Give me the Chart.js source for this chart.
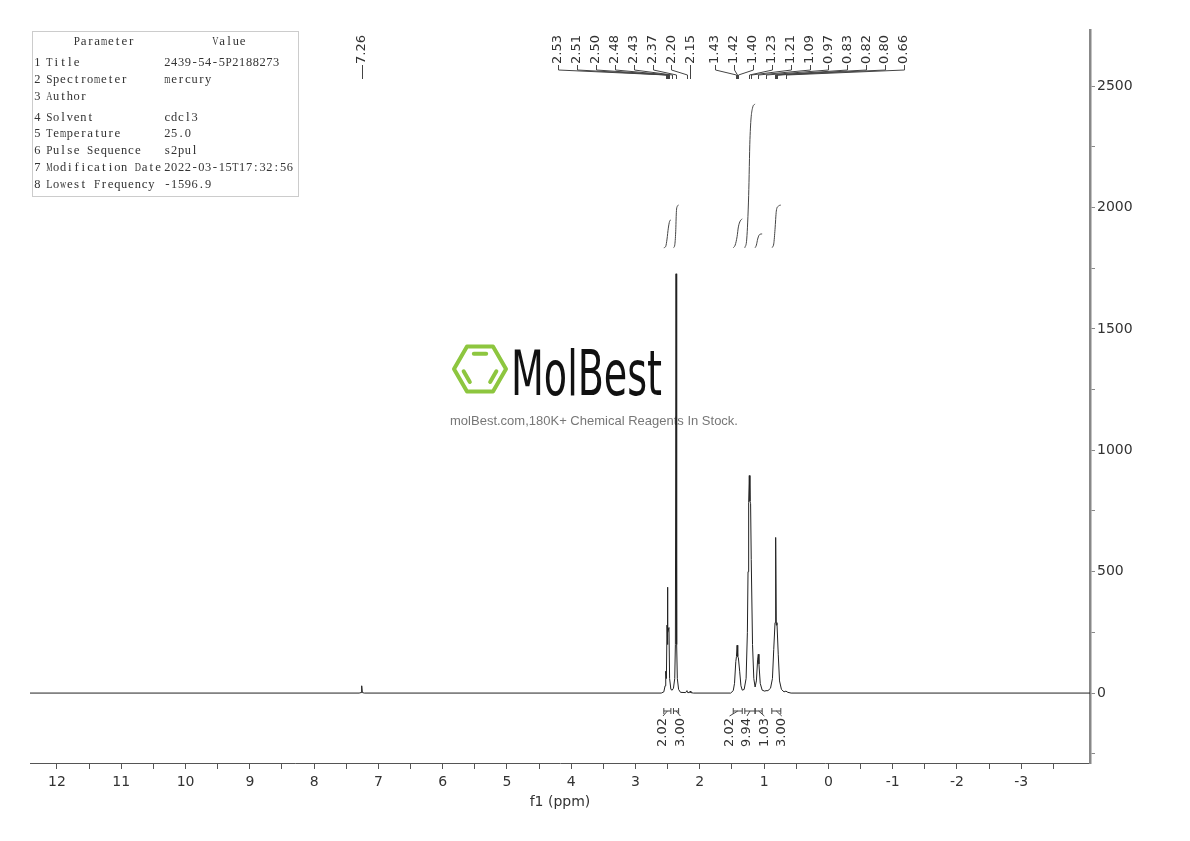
<!DOCTYPE html>
<html>
<head>
<meta charset="utf-8">
<script src="https://cdn.jsdelivr.net/npm/chart.js"></script>
<style>
  body { margin: 0; background: #fff; }
  #wrap { width: 1190px; height: 841px; }
</style>
</head>
<body>
<div id="wrap"><canvas id="chart" width="1190" height="841"></canvas></div>
<script>
// spectrum trace (ppm / intensity)
var shiftPpm = [12.42, 7.30, 7.27, 7.26, 7.25, 7.22, 2.60, 2.56, 2.54, 2.53,
                2.52, 2.51, 2.505, 2.50, 2.495, 2.48, 2.47, 2.45, 2.43, 2.41,
                2.39, 2.38, 2.37, 2.36, 2.35, 2.33, 2.30, 2.22, 2.20, 2.19,
                2.16, 2.15, 2.14, 2.10, 1.52, 1.48, 1.46, 1.44, 1.43, 1.42,
                1.41, 1.40, 1.38, 1.36, 1.34, 1.31, 1.28, 1.26, 1.25, 1.24,
                1.23, 1.22, 1.21, 1.20, 1.18, 1.16, 1.14, 1.12, 1.10, 1.09,
                1.08, 1.06, 1.03, 0.99, 0.97, 0.94, 0.90, 0.87, 0.85, 0.83,
                0.82, 0.81, 0.80, 0.78, 0.76, 0.73, 0.69, 0.66, 0.63, 0.58,
                -4.07];
var intensity = [0, 0, 2, 30, 2, 0, 0, 5, 30, 90,
                 60, 280, 200, 436, 250, 270, 60, 15, 12, 20,
                 60, 200, 1727, 200, 60, 15, 3, 2, 10, 2,
                 2, 8, 2, 0, 0, 10, 40, 130, 150, 197,
                 150, 145, 90, 30, 12, 15, 60, 250, 500, 785,
                 896, 790, 780, 550, 200, 60, 25, 50, 140, 160,
                 120, 40, 12, 8, 10, 10, 20, 60, 180, 290,
                 641, 280, 290, 160, 50, 15, 5, 8, 3, 0,
                 0];

// axis ticks
var xTickValues = [-3.5, -3, -2.5, -2, -1.5, -1, -0.5, 0, 0.5, 1, 1.5, 2, 2.5, 3, 3.5, 4, 4.5,
                   5, 5.5, 6, 6.5, 7, 7.5, 8, 8.5, 9, 9.5, 10, 10.5, 11, 11.5, 12];
var yTickValues = [-250, 0, 250, 500, 750, 1000, 1250, 1500, 1750, 2000, 2250, 2500];

// peak picking labels
var peakLabels = [7.26, 2.53, 2.51, 2.50, 2.48, 2.43, 2.37, 2.20, 2.15,
                  1.43, 1.42, 1.40, 1.23, 1.21, 1.09, 0.97, 0.83, 0.82, 0.80, 0.66];

// integrals: ranges, values and the drawn curves
var integralRanges = [[2.56, 2.45], [2.41, 2.33], [1.48, 1.34], [1.30, 1.14], [1.14, 1.03], [0.88, 0.74]];
var integralValues = [2.02, 3.00, 2.02, 9.94, 1.03, 3.00];
var integralPpm = [
  [2.56, 2.53, 2.51, 2.49, 2.47, 2.45],
  [2.41, 2.39, 2.375, 2.365, 2.35, 2.33],
  [1.48, 1.45, 1.42, 1.40, 1.37, 1.34],
  [1.30, 1.27, 1.24, 1.22, 1.18, 1.14],
  [1.14, 1.12, 1.10, 1.08, 1.06, 1.03],
  [0.88, 0.85, 0.83, 0.81, 0.78, 0.74]
];
var integralLevel = [
  [1834, 1840, 1870, 1915, 1943, 1949],
  [1834, 1845, 1900, 1980, 2005, 2010],
  [1834, 1845, 1880, 1920, 1945, 1953],
  [1834, 1870, 2050, 2280, 2410, 2426],
  [1834, 1845, 1870, 1885, 1890, 1891],
  [1834, 1850, 1910, 1985, 2005, 2010]
];

// parameter table
var paramNames = ['Title', 'Spectrometer', 'Author', 'Solvent', 'Temperature',
                  'Pulse Sequence', 'Modification Date', 'Lowest Frequency'];
var paramValues = ['2439-54-5P2188273', 'mercury', '', 'cdcl3', '25.0',
                   's2pul', '2022-03-15T17:32:56', '-1596.9'];

var FONT = '"DejaVu Sans", Verdana, sans-serif';

function toPoints(xs, ys) {
  var pts = [];
  for (var i = 0; i < xs.length; i++) pts.push({x: xs[i], y: ys[i]});
  return pts;
}

var datasets = [{
  data: toPoints(shiftPpm, intensity),
  borderColor: '#222',
  borderWidth: 1,
  pointRadius: 0,
  tension: 0
}];
integralPpm.forEach(function(xs, i) {
  datasets.push({
    data: toPoints(xs, integralLevel[i]),
    borderColor: '#444',
    borderWidth: 1,
    pointRadius: 0,
    cubicInterpolationMode: 'monotone'
  });
});

// half-width glyph cells, like the table font of the original
function monoText(ctx, text, x, y) {
  var cell = 6.8;
  for (var i = 0; i < text.length; i++) {
    var w = ctx.measureText(text[i]).width;
    ctx.save();
    ctx.translate(x + i * cell + cell / 2, y);
    if (w > cell - 0.6) ctx.scale((cell - 0.6) / w, 1);
    ctx.fillText(text[i], 0, 0);
    ctx.restore();
  }
}

var extras = {
  id: 'extras',
  beforeDatasetsDraw: function(chart) {
    var ctx = chart.ctx;
    ctx.save();
    // watermark hexagon
    var cx = 480, cy = 369, r = 26;
    var v = [];
    for (var k = 0; k < 6; k++) {
      v.push([cx + r * Math.cos(k * Math.PI / 3), cy + r * Math.sin(k * Math.PI / 3)]);
    }
    ctx.strokeStyle = '#8dc63f';
    ctx.lineWidth = 4;
    ctx.lineJoin = 'round';
    ctx.beginPath();
    v.forEach(function(p, k) { if (k === 0) ctx.moveTo(p[0], p[1]); else ctx.lineTo(p[0], p[1]); });
    ctx.closePath();
    ctx.stroke();
    ctx.lineCap = 'round';
    [[4, 5], [2, 3], [0, 1]].forEach(function(e) {
      var a = v[e[0]], b = v[e[1]];
      var ax = cx + 0.68 * (a[0] - cx), ay = cy + 0.68 * (a[1] - cy);
      var bx = cx + 0.68 * (b[0] - cx), by = cy + 0.68 * (b[1] - cy);
      ctx.beginPath();
      ctx.moveTo(ax + 0.15 * (bx - ax), ay + 0.15 * (by - ay));
      ctx.lineTo(bx - 0.15 * (bx - ax), by - 0.15 * (by - ay));
      ctx.stroke();
    });
    // watermark name
    ctx.fillStyle = '#111';
    ctx.font = '62px "Liberation Sans Narrow", "DejaVu Sans Condensed", sans-serif';
    ctx.textBaseline = 'alphabetic';
    var w = ctx.measureText('MolBest').width;
    ctx.save();
    ctx.translate(511, 395);
    ctx.scale(151 / w, 1);
    ctx.fillText('MolBest', 0, 0);
    ctx.restore();
    ctx.fillStyle = '#777';
    ctx.font = '13px "Liberation Sans", Arial, sans-serif';
    ctx.textAlign = 'center';
    ctx.textBaseline = 'middle';
    ctx.fillText('molBest.com,180K+ Chemical Reagents In Stock.', 594, 421);
    ctx.restore();
  },
  afterDraw: function(chart) {
    var ctx = chart.ctx;
    var xs = chart.scales.x;
    ctx.save();
    ctx.font = '13px ' + FONT;
    ctx.fillStyle = '#333';
    ctx.strokeStyle = '#444';
    ctx.lineWidth = 1;

    // peak labels on top
    var groups = [{from: 0, to: 0, start: null}, {from: 1, to: 8, start: 558}, {from: 9, to: 19, start: 715}];
    groups.forEach(function(g) {
      for (var i = g.from; i <= g.to; i++) {
        var px = xs.getPixelForValue(peakLabels[i]);
        var lx = g.start === null ? px : g.start + (i - g.from) * 18.9;
        ctx.save();
        ctx.translate(lx, 64);
        ctx.rotate(-Math.PI / 2);
        ctx.textAlign = 'left';
        ctx.textBaseline = 'middle';
        ctx.fillText(peakLabels[i].toFixed(2), 0, 0);
        ctx.restore();
        ctx.beginPath();
        ctx.moveTo(Math.round(lx) + 0.5, 65);
        ctx.lineTo(Math.round(lx) + 0.5, 70);
        ctx.lineTo(Math.round(px) + 0.5, 75);
        ctx.lineTo(Math.round(px) + 0.5, 79);
        ctx.stroke();
      }
    });

    // integral marks and values below the baseline
    var igroups = [[0, 1], [2, 3, 4, 5]];
    igroups.forEach(function(g) {
      var mids = g.map(function(i) {
        return (xs.getPixelForValue(integralRanges[i][0]) + xs.getPixelForValue(integralRanges[i][1])) / 2;
      });
      var mean = mids.reduce(function(a, b) { return a + b; }, 0) / mids.length;
      g.forEach(function(i, k) {
        var lx = mean + (k - (g.length - 1) / 2) * 17.4;
        var a = xs.getPixelForValue(integralRanges[i][0]);
        var b = xs.getPixelForValue(integralRanges[i][1]);
        ctx.beginPath();
        ctx.moveTo(a, 708); ctx.lineTo(a, 714);
        ctx.moveTo(b, 708); ctx.lineTo(b, 714);
        ctx.moveTo(a, 711); ctx.lineTo(b, 711);
        ctx.moveTo(mids[k], 711); ctx.lineTo(lx, 716);
        ctx.stroke();
        ctx.save();
        ctx.translate(lx, 718);
        ctx.rotate(-Math.PI / 2);
        ctx.textAlign = 'right';
        ctx.textBaseline = 'middle';
        ctx.fillText(integralValues[i].toFixed(2), 0, 0);
        ctx.restore();
      });
    });

    // parameter table
    ctx.strokeStyle = '#ccc';
    ctx.strokeRect(32.5, 31.5, 266, 165);
    ctx.fillStyle = '#333';
    ctx.font = '13px "Liberation Serif", "DejaVu Serif", serif';
    ctx.textBaseline = 'middle';
    ctx.textAlign = 'center';
    monoText(ctx, 'Parameter', 104 - 9 * 3.4, 42);
    monoText(ctx, 'Value', 229 - 5 * 3.4, 42);
    var rowY = [63, 80, 97, 118, 134, 151, 168, 185];
    paramNames.forEach(function(n, i) {
      monoText(ctx, String(i + 1), 34, rowY[i]);
      monoText(ctx, n, 46, rowY[i]);
      monoText(ctx, paramValues[i], 164, rowY[i]);
    });
    ctx.restore();
  }
};

new Chart(document.getElementById('chart'), {
  type: 'line',
  data: { datasets: datasets },
  options: {
    responsive: false,
    animation: false,
    layout: { padding: { top: 30, left: 30, right: 0, bottom: 30 } },
    plugins: { legend: { display: false }, tooltip: { enabled: false } },
    scales: {
      x: {
        type: 'linear',
        reverse: true,
        min: -4.07,
        max: 12.42,
        afterBuildTicks: function(s) { s.ticks = xTickValues.map(function(v) { return {value: v}; }); },
        grid: { drawOnChartArea: false, tickLength: 6, color: '#555', tickColor: '#555' },
        border: { color: '#555', width: 1 },
        ticks: {
          autoSkip: false,
          maxRotation: 0,
          padding: 5,
          color: '#333',
          font: { family: FONT, size: 14 },
          callback: function(v) { return Number.isInteger(v) ? String(v) : ''; }
        },
        title: { display: true, text: 'f1 (ppm)', color: '#333', font: { family: FONT, size: 14 }, padding: { top: 0, bottom: 0 } },
        afterFit: function(s) { s.height = 48; }
      },
      y: {
        type: 'linear',
        position: 'right',
        min: -288,
        max: 2731,
        afterBuildTicks: function(s) { s.ticks = yTickValues.map(function(v) { return {value: v}; }); },
        grid: { drawOnChartArea: false, tickLength: 5, color: '#888', tickColor: '#888' },
        border: { color: '#888', width: 2.5 },
        ticks: {
          autoSkip: false,
          padding: 2,
          color: '#333',
          font: { family: FONT, size: 14 },
          callback: function(v) { return v % 500 === 0 ? String(v) : ''; }
        },
        afterFit: function(s) { s.width = 100; }
      }
    }
  },
  plugins: [extras]
});
</script>
</body>
</html>
